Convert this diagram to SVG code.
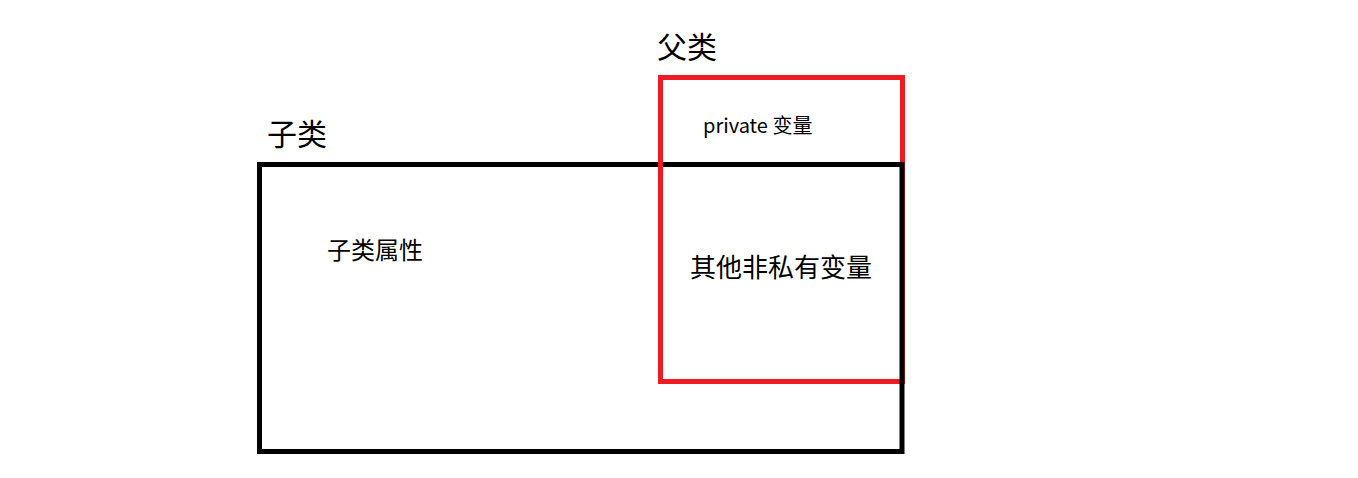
<svg xmlns="http://www.w3.org/2000/svg" width="1358" height="478" viewBox="0 0 1358 478">
<style>
text{font-family:"Noto Sans CJK SC","Noto Sans",sans-serif;fill:#000}
.r{fill:none;stroke:#ed1c24;stroke-width:5}
.b{fill:none;stroke:#000;stroke-width:5}
</style>
<rect width="1358" height="478" fill="#fff"/>
<g id="parent"><rect class="r" x="660.5" y="77.5" width="242" height="304"/>
<text x="657" y="58" font-size="30">父类</text>
<text x="703" y="133" font-size="20">private 变量</text></g>
<g id="child"><rect class="b" x="259.5" y="164.5" width="642.5" height="287"/>
<text x="267" y="145" font-size="30">子类</text>
<text x="327" y="259" font-size="24">子类属性</text></g>
<g id="overlap"><line class="r" x1="660.5" y1="160" x2="660.5" y2="170"/>
<text x="690" y="277" font-size="26">其他非私有变量</text></g>
<g id="connectors"/>
</svg>
